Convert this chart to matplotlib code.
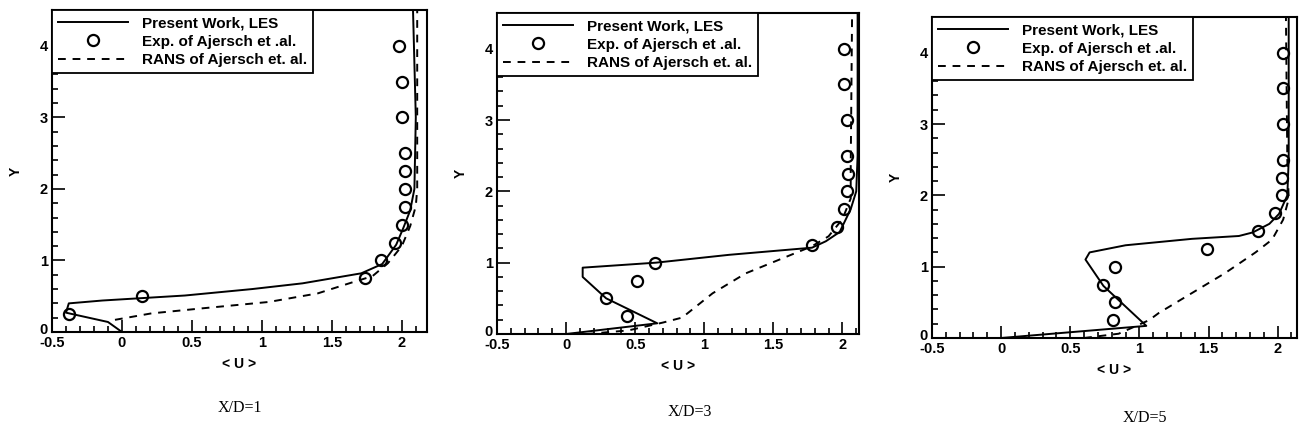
import matplotlib
matplotlib.use("Agg")
import matplotlib.pyplot as plt
import matplotlib.transforms as mtransforms
from matplotlib.ticker import MultipleLocator

plt.rcParams["font.family"] = ["Liberation Sans", "DejaVu Sans"]

# X/D = 1
les1_u = [0.0, -0.1, -0.4, -0.38, -0.14, 0.45, 0.93, 1.29, 1.71, 1.86, 1.96, 2.01, 2.06, 2.09, 2.1, 2.08]
les1_y = [0.0, 0.14, 0.27, 0.40, 0.44, 0.51, 0.60, 0.68, 0.82, 0.95, 1.22, 1.45, 1.70, 2.0, 3.0, 4.5]
exp1_u = [1.98, 2.0, 2.0, 2.02, 2.02, 2.02, 2.02, 2.0, 1.95, 1.85, 1.74, 0.14, -0.38]
exp1_y = [4.0, 3.5, 3.0, 2.5, 2.25, 2.0, 1.75, 1.5, 1.25, 1.0, 0.75, 0.5, 0.25]
rans1_u = [-0.05, 0.21, 0.57, 1.05, 1.4, 1.64, 1.79, 1.9, 2.0, 2.06, 2.1, 2.11, 2.11, 2.11]
rans1_y = [0.17, 0.26, 0.33, 0.42, 0.54, 0.69, 0.78, 0.96, 1.2, 1.48, 1.76, 2.0, 3.0, 4.5]

# X/D = 3
les3_u = [0.0, 0.66, 0.29, 0.12, 0.12, 0.65, 1.18, 1.78, 1.88, 1.98, 2.06, 2.1, 2.11, 2.11]
les3_y = [0.0, 0.15, 0.5, 0.8, 0.93, 1.0, 1.11, 1.21, 1.3, 1.43, 1.75, 2.0, 2.5, 4.5]
exp3_u = [2.01, 2.01, 2.03, 2.03, 2.04, 2.03, 2.01, 1.96, 1.78, 0.64, 0.51, 0.29, 0.44]
exp3_y = [4.0, 3.5, 3.0, 2.5, 2.25, 2.0, 1.75, 1.5, 1.25, 1.0, 0.75, 0.5, 0.25]
rans3_u = [0.15, 0.45, 0.7, 0.84, 1.06, 1.3, 1.54, 1.78, 1.9, 2.0, 2.06, 2.06, 2.07]
rans3_y = [0.0, 0.05, 0.16, 0.23, 0.57, 0.85, 1.04, 1.23, 1.37, 1.61, 1.9, 2.33, 4.5]

# X/D = 5
les5_u = [0.0, 1.05, 0.74, 0.61, 0.64, 0.9, 1.38, 1.72, 1.82, 1.94, 2.01, 2.07, 2.08, 2.08]
les5_y = [0.0, 0.17, 0.73, 1.1, 1.2, 1.3, 1.39, 1.43, 1.48, 1.6, 1.74, 2.0, 2.5, 4.5]
exp5_u = [2.04, 2.04, 2.04, 2.04, 2.03, 2.03, 1.98, 1.86, 1.49, 0.82, 0.74, 0.82, 0.81]
exp5_y = [4.0, 3.5, 3.0, 2.5, 2.25, 2.0, 1.75, 1.5, 1.25, 1.0, 0.75, 0.5, 0.25]
rans5_u = [0.6, 0.85, 1.07, 1.14, 1.38, 1.62, 1.84, 1.96, 2.04, 2.08, 2.07, 2.06]
rans5_y = [0.0, 0.06, 0.25, 0.35, 0.63, 0.91, 1.2, 1.38, 1.66, 1.95, 2.5, 4.5]

titles = ["X/D=1", "X/D=3", "X/D=5"]
xticks = [-0.5, 0, 0.5, 1, 1.5, 2]
xtick_labels = ["-0.5", "0", "0.5", "1", "1.5", "2"]
yticks = [0, 1, 2, 3, 4]
ytick_labels = ["0", "1", "2", "3", "4"]
panels = [(les1_u, les1_y, exp1_u, exp1_y, rans1_u, rans1_y),
          (les3_u, les3_y, exp3_u, exp3_y, rans3_u, rans3_y),
          (les5_u, les5_y, exp5_u, exp5_y, rans5_u, rans5_y)]

W, H = 1299, 433
boxes = [(52, 427, 10, 332), (497, 859, 13, 334), (932, 1297, 17, 338)]  # l, r, t, b in px
xmaxs = [2.18, 2.12, 2.14]
title_pos = [(240, 408), (690, 412), (1145, 418)]

fig = plt.figure(figsize=(W / 100, H / 100), dpi=100)
for i, (lu, ly, eu, ey, ru, ry) in enumerate(panels):
    l, r, t, b = boxes[i]
    ax = fig.add_axes([l / W, (H - b) / H, (r - l) / W, (b - t) / H])
    ax.plot(lu, ly, color="black", lw=1.4, label="Present Work, LES")
    ax.plot(eu, ey, ls="none", marker="o", ms=8, mfc="none", mec="black", mew=1.6,
            label="Exp. of Ajersch et .al.")
    ax.plot(ru, ry, color="black", lw=1.4, dashes=(4, 3.5), label="RANS of Ajersch et. al.")
    ax.set_xlim(-0.5, xmaxs[i]); ax.set_ylim(0, 4.5)
    ax.set_xticks(xticks); ax.set_xticklabels(xtick_labels)
    ax.set_yticks(yticks); ax.set_yticklabels(ytick_labels)
    ax.xaxis.set_minor_locator(MultipleLocator(0.1)); ax.yaxis.set_minor_locator(MultipleLocator(0.2))
    ax.tick_params(which="both", direction="in", top=False, right=False, labelsize=10.5, width=1.2)
    ax.tick_params(which="major", length=9, pad=3)
    ax.tick_params(which="minor", length=4)
    for lab in ax.get_xticklabels() + ax.get_yticklabels():
        lab.set_fontweight("bold")
    # lift the y "0" a little so it clears the "-0.5" below it
    y0 = ax.get_yticklabels()[0]
    y0.set_transform(y0.get_transform() + mtransforms.ScaledTranslation(0, 3 / 100, fig.dpi_scale_trans))
    for s in ax.spines.values():
        s.set_linewidth(1.5)
    ax.set_xlabel("< U >", fontsize=10, fontweight="bold", labelpad=5)
    ax.set_ylabel("Y", fontsize=10, fontweight="bold", labelpad=12)
    leg = ax.legend(loc="upper left", borderaxespad=0, fancybox=False, edgecolor="black",
                    framealpha=1, handlelength=4.6, handletextpad=0.9,
                    labelspacing=0.3, borderpad=0.4, prop={"weight": "bold", "size": 11})
    leg.get_frame().set_linewidth(1.3)
    tx, ty = title_pos[i]
    fig.text(tx / W, 1 - ty / H, titles[i], ha="center", va="center",
             fontsize=11.5, family="Liberation Serif")

fig.savefig("out.png", dpi=100)
